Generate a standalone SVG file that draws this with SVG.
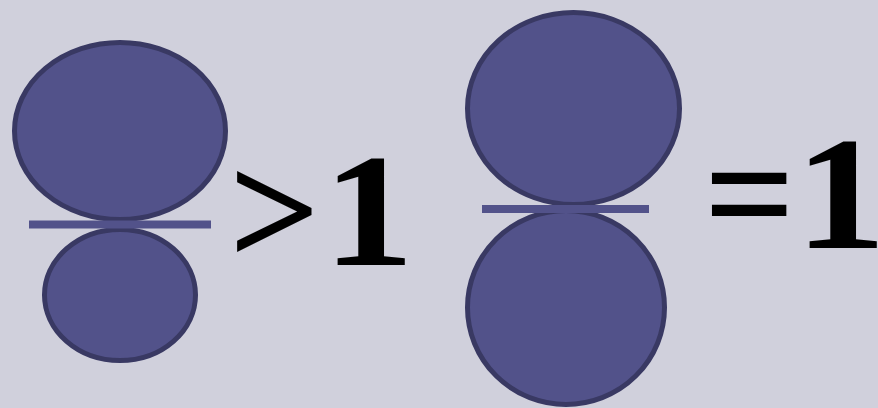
<svg xmlns="http://www.w3.org/2000/svg" width="878" height="408" viewBox="0 0 878 408">
<style>
.c{fill:#52528a;stroke:#393963;stroke-width:5}
.b{fill:#52528a}
.t{font-family:"Liberation Serif",serif;font-weight:bold;font-size:160px;fill:#000}
</style>
<rect width="878" height="408" fill="#d0d0dc"/>
<g id="left-top"><ellipse class="c" cx="120" cy="131" rx="105.5" ry="88.5"/></g>
<g id="left-bottom"><ellipse class="c" cx="120" cy="295" rx="75.5" ry="65.5"/></g>
<g id="left-bar"><rect class="b" x="29" y="220.5" width="182" height="8"/></g>
<g id="left-label"><text class="t" x="229" y="265">&gt;</text><text class="t" transform="translate(323,265) scale(1.14,1)">1</text></g>
<g id="right-top"><ellipse class="c" cx="573.5" cy="108.5" rx="106" ry="96"/></g>
<g id="right-bottom"><ellipse class="c" cx="566" cy="307.5" rx="98.5" ry="97"/></g>
<g id="right-bar"><rect class="b" x="482" y="205" width="167" height="8"/></g>
<g id="right-label"><text class="t" x="704" y="248">=</text><text class="t" transform="translate(795,248) scale(1.14,1)">1</text></g>
</svg>
